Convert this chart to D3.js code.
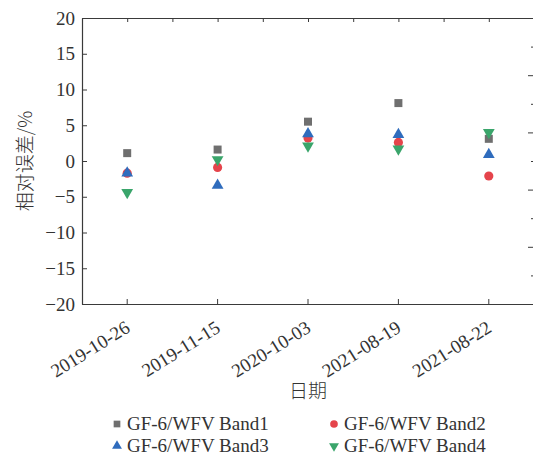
<!DOCTYPE html>
<html>
<head>
<meta charset="utf-8">
<script src="https://cdn.jsdelivr.net/npm/d3@7"></script>
<style>
  body { margin: 0; background: #fff; }
  text { font-family: "Liberation Serif", "Times New Roman", serif !important; fill: #333; }
  text.cjk { font-family: "Noto Sans CJK SC", sans-serif !important; font-weight: 300; }
</style>
</head>
<body>
<svg id="chart"></svg>
<script>
const dates = ["2019-10-26", "2019-11-15", "2020-10-03", "2021-08-19", "2021-08-22"];
const band1 = [1.1, 1.6, 5.5, 8.1, 3.1];
const band2 = [-1.7, -0.9, 3.2, 2.6, -2.1];
const band3 = [-1.7, -3.4, 3.8, 3.7, 0.9];
const band4 = [-4.4, 0.2, 2.1, 1.7, 4.0];
const yTicks = [-20, -15, -10, -5, 0, 5, 10, 15, 20];

const series = [
    { name: "GF-6/WFV Band1", values: band1, color: "#6f6f6f", symbol: d3.symbolSquare, size: 64, rot: 0 },
    { name: "GF-6/WFV Band2", values: band2, color: "#e5444b", symbol: d3.symbolCircle, size: 66, rot: 0 },
    { name: "GF-6/WFV Band3", values: band3, color: "#2f6cbd", symbol: d3.symbolTriangle, size: 60, rot: 0 },
    { name: "GF-6/WFV Band4", values: band4, color: "#3aa56b", symbol: d3.symbolTriangle, size: 60, rot: 180 }
];

const width = 533, height = 455;
const margin = { top: 18, right: -1, bottom: 151, left: 82 };
const svg = d3.select("#chart").attr("width", width).attr("height", height);

const x = d3.scaleBand().domain(dates).range([margin.left, width - margin.right]).padding(0);
const y = d3.scaleLinear().domain([-20, 20]).range([height - margin.bottom, margin.top]);
const yRight = d3.scaleLinear().domain([0, 10]).range([height - margin.bottom, margin.top]);

const axisColor = "#3a3a3a";

// left axis, ticks inward
const gy = svg.append("g")
    .attr("transform", `translate(${margin.left},0)`)
    .call(d3.axisLeft(y).tickValues(yTicks).tickSizeInner(-5).tickSizeOuter(0).tickPadding(7)
        .tickFormat(d => d < 0 ? "\u2212" + Math.abs(d) : d));
gy.select(".domain").attr("stroke", axisColor).attr("stroke-width", 1.2);
gy.selectAll(".tick line").attr("stroke", axisColor);
gy.selectAll("text").style("font-size", "19px").attr("fill", "#333");

// bottom axis, ticks inward
const gx = svg.append("g")
    .attr("transform", `translate(0,${y(-20)})`)
    .call(d3.axisBottom(x).tickSize(-5).tickSizeOuter(0).tickFormat(""));
gx.select(".domain").attr("stroke", axisColor).attr("stroke-width", 1.2);
gx.selectAll(".tick line").attr("stroke", axisColor);

gx.selectAll(".tick").append("text")
    .attr("transform", "translate(4,27) rotate(-32)")
    .attr("text-anchor", "end")
    .style("font-size", "19px")
    .text(d => d);

// top axis: ticks at category centres and band edges
const topTicks = [];
dates.forEach(d => { topTicks.push(x(d)); topTicks.push(x(d) + x.bandwidth() / 2); });
const xLin = d3.scaleLinear().domain([margin.left, width - margin.right]).range([margin.left, width - margin.right]);
const gt = svg.append("g")
    .attr("transform", `translate(0,${y(20)})`)
    .call(d3.axisTop(xLin).tickValues(topTicks.slice(1)).tickSize(-4).tickSizeOuter(0).tickFormat(""));
gt.select(".domain").attr("stroke", axisColor).attr("stroke-width", 1.2);
gt.selectAll(".tick line").attr("stroke", axisColor);

// right axis (labels cut off by the frame)
const gr = svg.append("g")
    .attr("transform", `translate(${width + 1},0)`)
    .call(d3.axisRight(yRight).tickValues([2, 4, 6, 8]).tickSize(-6).tickFormat(""));
gr.select(".domain").attr("stroke", axisColor);
gr.selectAll(".tick line").attr("stroke", axisColor);
const gr2 = svg.append("g")
    .attr("transform", `translate(${width + 1},0)`)
    .call(d3.axisRight(yRight).tickValues([1, 3, 5, 7, 9]).tickSize(-3).tickFormat(""));
gr2.select(".domain").remove();
gr2.selectAll(".tick line").attr("stroke", axisColor);

// points
series.forEach(s => {
    svg.append("g").selectAll("path")
        .data(s.values)
        .join("path")
        .attr("d", d3.symbol().type(s.symbol).size(s.size))
        .attr("transform", (d, i) => `translate(${x(dates[i]) + x.bandwidth() / 2},${y(d)}) rotate(${s.rot})`)
        .attr("fill", s.color);
});

// axis titles
svg.append("text")
    .attr("class", "cjk")
    .attr("transform", `translate(32,${y(0)}) rotate(-90)`)
    .attr("text-anchor", "middle")
    .style("font-size", "19px")
    .text("相对误差/%");

svg.append("text")
    .attr("class", "cjk")
    .attr("x", (margin.left + width - margin.right) / 2)
    .attr("y", 398)
    .attr("text-anchor", "middle")
    .style("font-size", "19px")
    .text("日期");

// legend
const legendPos = [[117, 424], [334, 424], [117, 446], [334, 446]];
series.forEach((s, i) => {
    const [lx, ly] = legendPos[i];
    svg.append("path")
        .attr("d", d3.symbol().type(s.symbol).size(s.size * 0.7))
        .attr("transform", `translate(${lx},${ly}) rotate(${s.rot})`)
        .attr("fill", s.color);
    svg.append("text")
        .attr("x", lx + 10)
        .attr("y", ly)
        .attr("dy", "0.33em")
        .style("font-size", "19px")
        .text(s.name);
});
</script>
</body>
</html>
